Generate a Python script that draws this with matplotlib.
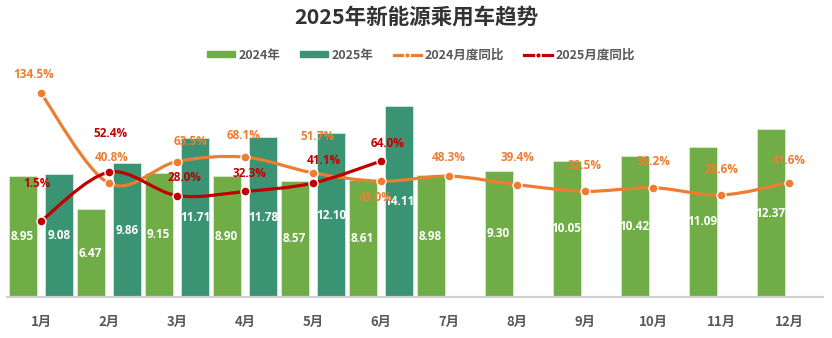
import matplotlib.pyplot as plt
import numpy as np
from matplotlib.path import Path
from matplotlib.patches import PathPatch, Patch
from matplotlib.lines import Line2D

plt.rcParams['font.family'] = ['Noto Sans CJK SC', 'DejaVu Sans']

# Data
months = ['1月', '2月', '3月', '4月', '5月', '6月', '7月', '8月', '9月', '10月', '11月', '12月']
sales_2024 = [8.95, 6.47, 9.15, 8.90, 8.57, 8.61, 8.98, 9.30, 10.05, 10.42, 11.09, 12.37]
sales_2025 = [9.08, 9.86, 11.71, 11.78, 12.10, 14.11]
yoy_2024 = [134.5, 40.8, 63.5, 68.1, 51.7, 43.0, 48.3, 39.4, 32.5, 36.2, 28.6, 41.6]
yoy_2025 = [1.5, 52.4, 28.0, 32.3, 41.1, 64.0]

# label offsets (pixels) for the percent labels
off_2024 = [(-7, 19), (3, 26), (14, 20), (-1, 22), (4, 36), (-5, -16), (0, 19), (0, 27), (0, 26), (0, 26), (0, 26), (0, 22)]
off_2025 = [(-4, 38), (1, 39), (7, 18), (4, 18), (11, 23), (7, 18)]

c24 = '#70AD47'
c25 = '#3A9373'
c_line24 = '#ED7D31'
c_line25 = '#C00000'
gray = '#595959'
num_font = ['Open Sans', 'DejaVu Sans']


def smooth_path(xs, ys):
    # Catmull-Rom style smoothing drawn as cubic bezier path
    pts = np.column_stack([xs, ys]).astype(float)
    n = len(pts)
    verts = [pts[0]]
    codes = [Path.MOVETO]
    for i in range(n - 1):
        p0 = pts[i - 1] if i > 0 else pts[i]
        p1 = pts[i]
        p2 = pts[i + 1]
        p3 = pts[i + 2] if i + 2 < n else pts[i + 1]
        c1 = p1 + (p2 - p0) / 6.0
        c2 = p2 - (p3 - p1) / 6.0
        verts += [c1, c2, p2]
        codes += [Path.CURVE4] * 3
    return Path(verts, codes)


fig = plt.figure(figsize=(8.32, 3.38), dpi=100)
ax = fig.add_axes([7 / 832, 41 / 338, 816 / 832, 227 / 338])
ax2 = ax.twinx()

x = np.arange(len(months))
w = 0.41
b1 = ax.bar(x - 0.27, sales_2024, w, color=c24, edgecolor='#d8ecd0', linewidth=0.6, zorder=2)
x25 = x[:len(sales_2025)]
b2 = ax.bar(x25 + 0.27, sales_2025, w, color=c25, edgecolor='#d0e8e0', linewidth=0.6, zorder=2)

for bars, vals in [(b1, sales_2024), (b2, sales_2025)]:
    for r, v in zip(bars, vals):
        ax.text(r.get_x() + r.get_width() / 2, v / 2, f'{v:.2f}', ha='center', va='center',
                color='white', fontsize=8.5, fontweight='bold', family=num_font, zorder=5)

ax.set_xlim(-0.5, 11.5)
ax.set_ylim(0, 16.75)
ax.set_yticks([])
ax.set_xticks(x)
ax.set_xticklabels(months, fontsize=9.5, fontweight='bold', color=gray)
ax.tick_params(axis='x', length=0, pad=13)
for s in ['top', 'right', 'left']:
    ax.spines[s].set_visible(False)
ax.spines['bottom'].set_color('#D0D0D0')
ax.spines['bottom'].set_linewidth(1.6)

ax2.set_ylim(-77.6, 158.85)
ax2.set_yticks([])
for s in ['top', 'right', 'left', 'bottom']:
    ax2.spines[s].set_visible(False)

for xs, ys, col, offs in [(x, yoy_2024, c_line24, off_2024), (x25, yoy_2025, c_line25, off_2025)]:
    ax2.add_patch(PathPatch(smooth_path(xs, ys), facecolor='none', edgecolor=col, lw=2.3,
                            capstyle='round', zorder=3))
    ax2.plot(xs, ys, 'o', color=col, markersize=6.5, markeredgecolor='white',
             markeredgewidth=1.0, zorder=4)
    for xi, yi, (dx, dy) in zip(xs, ys, offs):
        ax2.annotate(f'{yi:.1f}%', (xi, yi), xytext=(dx * 0.72, dy * 0.72), textcoords='offset points',
                     ha='center', va='center', color=col, fontsize=8.5, fontweight='bold',
                     family=num_font, zorder=6)

fig.text(0.5, 1 - 17 / 338, '2025年新能源乘用车趋势', ha='center', va='center',
         fontsize=15.5, fontweight='bold', color='#333333')

handles = [
    Patch(color=c24, label='2024年'),
    Patch(color=c25, label='2025年'),
    Line2D([], [], color=c_line24, lw=2.3, marker='o', markersize=4, markeredgecolor='white', label='2024月度同比'),
    Line2D([], [], color=c_line25, lw=2.3, marker='o', markersize=4, markeredgecolor='white', label='2025月度同比'),
]
leg = fig.legend(handles=handles, loc='center', bbox_to_anchor=(421 / 832, 1 - 55 / 338), ncol=4,
                 frameon=False, fontsize=9, handlelength=2.2, handleheight=0.45, columnspacing=1.6,
                 handletextpad=0.3)
for t in leg.get_texts():
    t.set_color(gray)
    t.set_fontweight('bold')

fig.savefig('out.png', dpi=100)
